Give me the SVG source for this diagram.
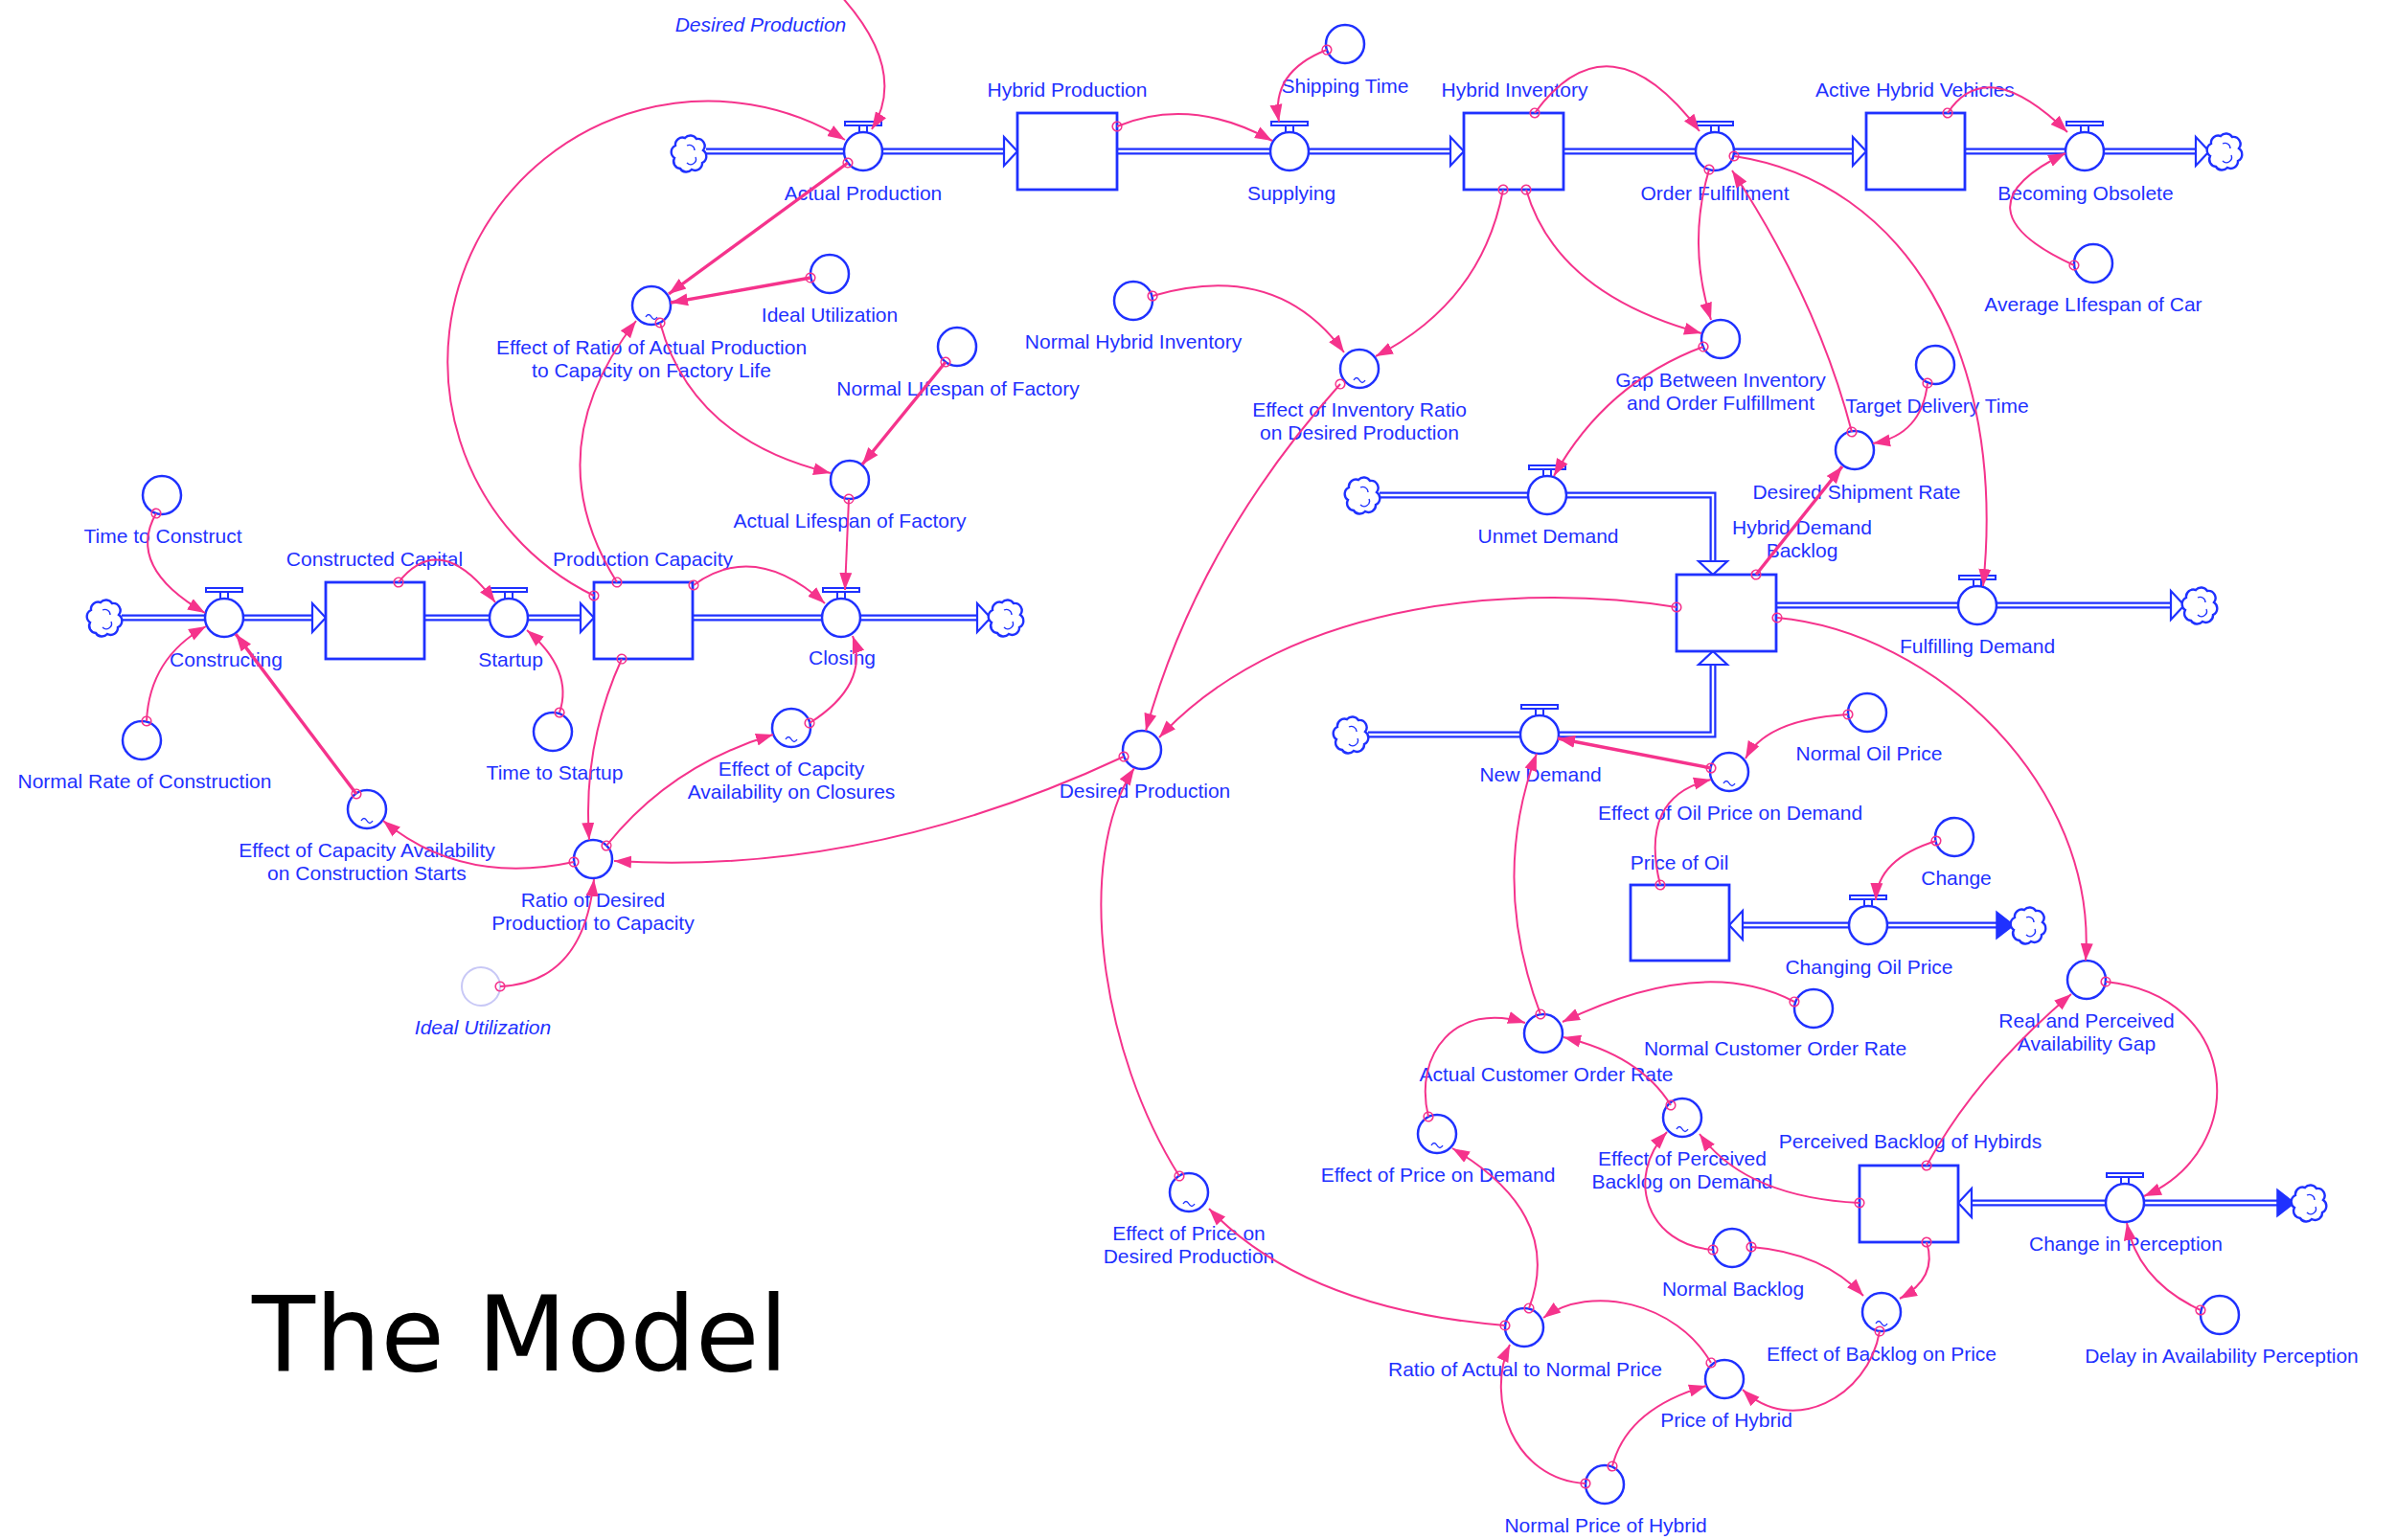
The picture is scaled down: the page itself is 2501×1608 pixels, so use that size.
<svg xmlns="http://www.w3.org/2000/svg" xmlns:xlink="http://www.w3.org/1999/xlink" width="2501" height="1608" viewBox="0 0 2501 1608">
<style>
.nc{fill:#fff;stroke:#1f31ff;stroke-width:2.5}
.gc{fill:#fff;stroke:#c8c8f6;stroke-width:2}
.st{fill:#fff;stroke:#1f31ff;stroke-width:2.8}
.vt{fill:#fff;stroke:#1f31ff;stroke-width:2}
.tl{fill:none;stroke:#1f31ff;stroke-width:1.4}
.lb{font-family:"Liberation Sans",Arial,sans-serif;font-size:21px;fill:#1f31ff;text-anchor:middle}
.it{font-style:italic}
.po{fill:none;stroke:#1f31ff;stroke-width:7}
.pi{fill:none;stroke:#fff;stroke-width:2.5}
.ha{fill:#fff;stroke:#1f31ff;stroke-width:2.2}
.fa{fill:#1f31ff;stroke:#1f31ff;stroke-width:1.5}
.lk{fill:none;stroke:#f5338c;stroke-width:2;marker-start:url(#dot);marker-end:url(#arr)}
.nm{marker-start:none}
.tk{stroke-width:3.4}
.cl{fill:#fff;stroke:#1f31ff;stroke-width:2.4}
.ttl{font-family:"DejaVu Sans",Verdana,sans-serif;font-size:108px;fill:#000}
</style>
<defs>
<marker id="arr" markerUnits="userSpaceOnUse" markerWidth="20" markerHeight="16" refX="18" refY="8" orient="auto" viewBox="0 0 20 16"><path d="M0,1.5 L18,8 L0,14.5 z" fill="#f5338c"/></marker>
<marker id="dot" markerUnits="userSpaceOnUse" markerWidth="14" markerHeight="14" refX="7" refY="7" orient="auto" viewBox="0 0 14 14"><circle cx="7" cy="7" r="4.8" fill="none" stroke="#f5338c" stroke-width="1.6"/></marker>
<g id="cloud">
<path class="cl" d="M-5,-16 a7.5,7.5 0 0 1 12,1 a7.5,7.5 0 0 1 7,12 a7.5,7.5 0 0 1 -1,13 a7.5,7.5 0 0 1 -11,7 a7.5,7.5 0 0 1 -12,-1 a7.5,7.5 0 0 1 -6,-11 a7.5,7.5 0 0 1 1,-13 a7.5,7.5 0 0 1 10,-8 z"/>
<path class="tl" d="M-3,-8 a5.5,5.5 0 0 1 8,5 M6,4 a5.5,5.5 0 0 1 -9,6"/>
</g>
</defs>
<rect width="2501" height="1608" fill="#fff"/>

<g id="flows">
<path class="po" d="M737,158 H1050"/><path class="pi" d="M737,158 H1050"/><polygon class="ha" points="1062,158 1048,143 1048,173"/>
<path class="po" d="M1166,158 H1516"/><path class="pi" d="M1166,158 H1516"/><polygon class="ha" points="1528,158 1514,143 1514,173"/>
<path class="po" d="M1632,158 H1936"/><path class="pi" d="M1632,158 H1936"/><polygon class="ha" points="1948,158 1934,143 1934,173"/>
<path class="po" d="M2051,158 H2294"/><path class="pi" d="M2051,158 H2294"/><polygon class="ha" points="2306,158 2292,143 2292,173"/>
<path class="po" d="M127,645 H328"/><path class="pi" d="M127,645 H328"/><polygon class="ha" points="340,645 326,630 326,660"/>
<path class="po" d="M443,645 H608"/><path class="pi" d="M443,645 H608"/><polygon class="ha" points="620,645 606,630 606,660"/>
<path class="po" d="M723,645 H1022"/><path class="pi" d="M723,645 H1022"/><polygon class="ha" points="1034,645 1020,630 1020,660"/>
<path class="po" d="M1440,517 H1788 V588"/><path class="pi" d="M1440,517 H1788 V588"/><polygon class="ha" points="1788,600 1773,586 1803,586"/>
<path class="po" d="M1428,767 H1788 V692"/><path class="pi" d="M1428,767 H1788 V692"/><polygon class="ha" points="1788,680 1773,694 1803,694"/>
<path class="po" d="M1854,632 H2268"/><path class="pi" d="M1854,632 H2268"/><polygon class="ha" points="2280,632 2266,617 2266,647"/>
<path class="po" d="M1817,966 H2086"/><path class="pi" d="M1817,966 H2086"/><polygon class="ha" points="1805,966 1819,951 1819,981"/><polygon class="fa" points="2102,966 2084,952 2084,980"/>
<path class="po" d="M2056,1256 H2378"/><path class="pi" d="M2056,1256 H2378"/><polygon class="ha" points="2044,1256 2058,1241 2058,1271"/><polygon class="fa" points="2395,1256 2377,1242 2377,1270"/>
<use href="#cloud" transform="translate(720,160)"/>
<use href="#cloud" transform="translate(2323,158)"/>
<use href="#cloud" transform="translate(110,645)"/>
<use href="#cloud" transform="translate(1051,645)"/>
<use href="#cloud" transform="translate(1423,517)"/>
<use href="#cloud" transform="translate(1411,767)"/>
<use href="#cloud" transform="translate(2297,632)"/>
<use href="#cloud" transform="translate(2118,966)"/>
<use href="#cloud" transform="translate(2411,1256)"/>
</g>

<g id="s-hybrid-production"><rect class="st" x="1062" y="118" width="104" height="80"/><text class="lb" x="1114" y="101">Hybrid Production</text></g>
<g id="s-hybrid-inventory"><rect class="st" x="1528" y="118" width="104" height="80"/><text class="lb" x="1581" y="101">Hybrid Inventory</text></g>
<g id="s-active-hybrid-vehicles"><rect class="st" x="1948" y="118" width="103" height="80"/><text class="lb" x="1999" y="101">Active Hybrid Vehicles</text></g>
<g id="s-constructed-capital"><rect class="st" x="340" y="608" width="103" height="80"/><text class="lb" x="391" y="591">Constructed Capital</text></g>
<g id="s-production-capacity"><rect class="st" x="620" y="608" width="103" height="80"/><text class="lb" x="671" y="591">Production Capacity</text></g>
<g id="s-hybrid-demand-backlog"><rect class="st" x="1750" y="600" width="104" height="80"/><text class="lb" x="1881" y="558">Hybrid Demand<tspan x="1881" dy="24">Backlog</tspan></text></g>
<g id="s-price-of-oil"><rect class="st" x="1702" y="924" width="103" height="79"/><text class="lb" x="1753" y="908">Price of Oil</text></g>
<g id="s-perceived-backlog"><rect class="st" x="1941" y="1217" width="103" height="80"/><text class="lb" x="1994" y="1199">Perceived Backlog of Hybirds</text></g>

<g id="v-actual-production"><path class="vt" d="M897,138V131M905,138V131"/><rect class="vt" x="882" y="127" width="38" height="4"/><circle class="nc" cx="901" cy="158" r="20"/><text class="lb" x="901" y="209">Actual Production</text></g>
<g id="v-supplying"><path class="vt" d="M1342,138V131M1350,138V131"/><rect class="vt" x="1327" y="127" width="38" height="4"/><circle class="nc" cx="1346" cy="158" r="20"/><text class="lb" x="1348" y="209">Supplying</text></g>
<g id="v-order-fulfillment"><path class="vt" d="M1786,138V131M1794,138V131"/><rect class="vt" x="1771" y="127" width="38" height="4"/><circle class="nc" cx="1790" cy="158" r="20"/><text class="lb" x="1790" y="209">Order Fulfillment</text></g>
<g id="v-becoming-obsolete"><path class="vt" d="M2172,138V131M2180,138V131"/><rect class="vt" x="2157" y="127" width="38" height="4"/><circle class="nc" cx="2176" cy="158" r="20"/><text class="lb" x="2177" y="209">Becoming Obsolete</text></g>
<g id="v-constructing"><path class="vt" d="M230,625V618M238,625V618"/><rect class="vt" x="215" y="614" width="38" height="4"/><circle class="nc" cx="234" cy="645" r="20"/><text class="lb" x="236" y="696">Constructing</text></g>
<g id="v-startup"><path class="vt" d="M527,625V618M535,625V618"/><rect class="vt" x="512" y="614" width="38" height="4"/><circle class="nc" cx="531" cy="645" r="20"/><text class="lb" x="533" y="696">Startup</text></g>
<g id="v-closing"><path class="vt" d="M874,625V618M882,625V618"/><rect class="vt" x="859" y="614" width="38" height="4"/><circle class="nc" cx="878" cy="645" r="20"/><text class="lb" x="879" y="694">Closing</text></g>
<g id="v-unmet-demand"><path class="vt" d="M1611,497V490M1619,497V490"/><rect class="vt" x="1596" y="486" width="38" height="4"/><circle class="nc" cx="1615" cy="517" r="20"/><text class="lb" x="1616" y="567">Unmet Demand</text></g>
<g id="v-fulfilling-demand"><path class="vt" d="M2060,612V605M2068,612V605"/><rect class="vt" x="2045" y="601" width="38" height="4"/><circle class="nc" cx="2064" cy="632" r="20"/><text class="lb" x="2064" y="682">Fulfilling Demand</text></g>
<g id="v-new-demand"><path class="vt" d="M1603,747V740M1611,747V740"/><rect class="vt" x="1588" y="736" width="38" height="4"/><circle class="nc" cx="1607" cy="767" r="20"/><text class="lb" x="1608" y="816">New Demand</text></g>
<g id="v-changing-oil-price"><path class="vt" d="M1946,946V939M1954,946V939"/><rect class="vt" x="1931" y="935" width="38" height="4"/><circle class="nc" cx="1950" cy="966" r="20"/><text class="lb" x="1951" y="1017">Changing Oil Price</text></g>
<g id="v-change-in-perception"><path class="vt" d="M2214,1236V1229M2222,1236V1229"/><rect class="vt" x="2199" y="1225" width="38" height="4"/><circle class="nc" cx="2218" cy="1256" r="20"/><text class="lb" x="2219" y="1306">Change in Perception</text></g>

<g id="g-desired-production-ghost"><text class="lb it" x="794" y="33">Desired Production</text></g>
<g id="a-effect-ratio"><circle class="nc" cx="680" cy="319" r="20"/><path class="tl" d="M674,331 q3,-5 6,0 t6,0"/><text class="lb" x="680" y="370">Effect of Ratio of Actual Production<tspan x="680" dy="24">to Capacity on Factory Life</tspan></text></g>
<g id="a-ideal-utilization"><circle class="nc" cx="866" cy="286" r="20"/><text class="lb" x="866" y="336">Ideal Utilization</text></g>
<g id="a-normal-lifespan-factory"><circle class="nc" cx="999" cy="362" r="20"/><text class="lb" x="1000" y="413">Normal LIfespan of Factory</text></g>
<g id="a-actual-lifespan-factory"><circle class="nc" cx="887" cy="501" r="20"/><text class="lb" x="887" y="551">Actual Lifespan of Factory</text></g>
<g id="a-normal-hybrid-inventory"><circle class="nc" cx="1183" cy="314" r="20"/><text class="lb" x="1183" y="364">Normal Hybrid Inventory</text></g>
<g id="a-effect-inventory-ratio"><circle class="nc" cx="1419" cy="385" r="20"/><path class="tl" d="M1413,397 q3,-5 6,0 t6,0"/><text class="lb" x="1419" y="435">Effect of Inventory Ratio<tspan x="1419" dy="24">on Desired Production</tspan></text></g>
<g id="a-gap"><circle class="nc" cx="1796" cy="354" r="20"/><text class="lb" x="1796" y="404">Gap Between Inventory<tspan x="1796" dy="24">and Order Fulfillment</tspan></text></g>
<g id="a-target-delivery-time"><circle class="nc" cx="2020" cy="381" r="20"/><text class="lb" x="2022" y="431">Target Delivery Time</text></g>
<g id="a-desired-shipment-rate"><circle class="nc" cx="1936" cy="470" r="20"/><text class="lb" x="1938" y="521">Desired Shipment Rate</text></g>
<g id="a-average-lifespan-car"><circle class="nc" cx="2185" cy="275" r="20"/><text class="lb" x="2185" y="325">Average LIfespan of Car</text></g>
<g id="a-shipping-time"><circle class="nc" cx="1404" cy="46" r="20"/><text class="lb" x="1404" y="97">Shipping Time</text></g>
<g id="a-time-to-construct"><circle class="nc" cx="169" cy="517" r="20"/><text class="lb" x="170" y="567">Time to Construct</text></g>
<g id="a-normal-rate-construction"><circle class="nc" cx="148" cy="773" r="20"/><text class="lb" x="151" y="823">Normal Rate of Construction</text></g>
<g id="a-time-to-startup"><circle class="nc" cx="577" cy="764" r="20"/><text class="lb" x="579" y="814">Time to Startup</text></g>
<g id="a-effect-cap-construction"><circle class="nc" cx="383" cy="845" r="20"/><path class="tl" d="M377,857 q3,-5 6,0 t6,0"/><text class="lb" x="383" y="895">Effect of Capacity Availability<tspan x="383" dy="24">on Construction Starts</tspan></text></g>
<g id="a-ratio-desired-capacity"><circle class="nc" cx="619" cy="897" r="20"/><text class="lb" x="619" y="947">Ratio of Desired<tspan x="619" dy="24">Production to Capacity</tspan></text></g>
<g id="a-effect-cap-closures"><circle class="nc" cx="826" cy="760" r="20"/><path class="tl" d="M820,772 q3,-5 6,0 t6,0"/><text class="lb" x="826" y="810">Effect of Capcity<tspan x="826" dy="24">Availability on Closures</tspan></text></g>
<g id="g-ideal-utilization-ghost"><circle class="gc" cx="502" cy="1030" r="20"/><text class="lb it" x="504" y="1080">Ideal Utilization</text></g>
<g id="a-desired-production"><circle class="nc" cx="1192" cy="783" r="20"/><text class="lb" x="1195" y="833">Desired Production</text></g>
<g id="a-effect-price-desired"><circle class="nc" cx="1241" cy="1245" r="20"/><path class="tl" d="M1235,1257 q3,-5 6,0 t6,0"/><text class="lb" x="1241" y="1295">Effect of Price on<tspan x="1241" dy="24">Desired Production</tspan></text></g>
<g id="a-effect-oil-price"><circle class="nc" cx="1805" cy="806" r="20"/><path class="tl" d="M1799,818 q3,-5 6,0 t6,0"/><text class="lb" x="1806" y="856">Effect of Oil Price on Demand</text></g>
<g id="a-normal-oil-price"><circle class="nc" cx="1949" cy="744" r="20"/><text class="lb" x="1951" y="794">Normal Oil Price</text></g>
<g id="a-change"><circle class="nc" cx="2040" cy="874" r="20"/><text class="lb" x="2042" y="924">Change</text></g>
<g id="a-actual-customer-order-rate"><circle class="nc" cx="1611" cy="1079" r="20"/><text class="lb" x="1614" y="1129">Actual Customer Order Rate</text></g>
<g id="a-normal-customer-order-rate"><circle class="nc" cx="1893" cy="1053" r="20"/><text class="lb" x="1853" y="1102">Normal Customer Order Rate</text></g>
<g id="a-effect-price-demand"><circle class="nc" cx="1500" cy="1184" r="20"/><path class="tl" d="M1494,1196 q3,-5 6,0 t6,0"/><text class="lb" x="1501" y="1234">Effect of Price on Demand</text></g>
<g id="a-effect-perceived-backlog"><circle class="nc" cx="1756" cy="1167" r="20"/><path class="tl" d="M1750,1179 q3,-5 6,0 t6,0"/><text class="lb" x="1756" y="1217">Effect of Perceived<tspan x="1756" dy="24">Backlog on Demand</tspan></text></g>
<g id="a-real-perceived-gap"><circle class="nc" cx="2178" cy="1023" r="20"/><text class="lb" x="2178" y="1073">Real and Perceived<tspan x="2178" dy="24">Availability Gap</tspan></text></g>
<g id="a-delay-availability"><circle class="nc" cx="2317" cy="1373" r="20"/><text class="lb" x="2319" y="1423">Delay in Availability Perception</text></g>
<g id="a-normal-backlog"><circle class="nc" cx="1808" cy="1303" r="20"/><text class="lb" x="1809" y="1353">Normal Backlog</text></g>
<g id="a-effect-backlog-price"><circle class="nc" cx="1964" cy="1370" r="20"/><path class="tl" d="M1958,1382 q3,-5 6,0 t6,0"/><text class="lb" x="1964" y="1421">Effect of Backlog on Price</text></g>
<g id="a-ratio-actual-normal-price"><circle class="nc" cx="1591" cy="1386" r="20"/><text class="lb" x="1592" y="1437">Ratio of Actual to Normal Price</text></g>
<g id="a-price-of-hybrid"><circle class="nc" cx="1800" cy="1440" r="20"/><text class="lb" x="1802" y="1490">Price of Hybrid</text></g>
<g id="a-normal-price-hybrid"><circle class="nc" cx="1675" cy="1550" r="20"/><text class="lb" x="1676" y="1600">Normal Price of Hybrid</text></g>

<g id="links">
<path class="lk nm" d="M878,-4 Q948,74 910,135"/>
<path class="lk" d="M620,622 A272,272 0 1 1 882,146"/>
<path class="lk tk" d="M885,170 L698,307"/>
<path class="lk tk" d="M846,290 L700,316"/>
<path class="lk" d="M689,337 Q722,459 867,494"/>
<path class="lk tk" d="M987,378 L900,485"/>
<path class="lk" d="M644,608 Q558,471 664,335"/>
<path class="lk" d="M1166,132 Q1243,100 1328,147"/>
<path class="lk" d="M1385,52 Q1326,75 1335,127"/>
<path class="lk" d="M1602,118 Q1680,12 1774,137"/>
<path class="lk" d="M2033,118 Q2074,56 2158,138"/>
<path class="lk" d="M2165,277 Q2036,218 2156,160"/>
<path class="lk" d="M1569,198 Q1547,315 1436,372"/>
<path class="lk" d="M1593,198 Q1625,307 1776,348"/>
<path class="lk" d="M1784,177 Q1761,255 1786,334"/>
<path class="lk" d="M1933,451 Q1897,313 1808,178"/>
<path class="lk" d="M1810,163 C1990,190 2095,370 2070,612"/>
<path class="lk" d="M2012,400 Q2006,454 1955,463"/>
<path class="lk" d="M1778,362 Q1676,400 1622,497"/>
<path class="lk tk" d="M1833,600 L1923,487"/>
<path class="lk" d="M1203,309 Q1333,271 1403,368"/>
<path class="lk" d="M1399,401 Q1250,568 1196,763"/>
<path class="lk" d="M1750,634 C1600,610 1350,620 1210,770"/>
<path class="lk" d="M1231,1228 C1150,1100 1120,900 1184,802"/>
<path class="lk" d="M1173,790 Q906,915 641,899"/>
<path class="lk" d="M724,611 Q788,564 861,630"/>
<path class="lk" d="M886,521 L882,616"/>
<path class="lk" d="M845,755 Q908,715 890,664"/>
<path class="lk" d="M416,608 Q460,552 517,629"/>
<path class="lk" d="M584,744 Q599,700 550,658"/>
<path class="lk" d="M163,536 Q131,592 214,640"/>
<path class="lk" d="M153,753 Q156,687 215,654"/>
<path class="lk tk" d="M372,829 L246,662"/>
<path class="lk" d="M649,688 Q608,778 615,877"/>
<path class="lk" d="M599,900 Q482,925 400,857"/>
<path class="lk" d="M633,883 Q700,799 807,767"/>
<path class="lk" d="M522,1030 Q609,1026 620,918"/>
<path class="lk tk" d="M1786,802 L1626,771"/>
<path class="lk" d="M1929,746 Q1844,751 1822,792"/>
<path class="lk" d="M1733,924 Q1710,832 1786,814"/>
<path class="lk" d="M2021,878 Q1960,897 1958,940"/>
<path class="lk" d="M1608,1059 Q1555,919 1604,787"/>
<path class="lk" d="M1855,645 C2020,660 2190,820 2177,1003"/>
<path class="lk" d="M1873,1046 Q1778,996 1631,1067"/>
<path class="lk" d="M1491,1166 C1475,1100 1520,1045 1592,1068"/>
<path class="lk" d="M1744,1154 Q1712,1102 1632,1083"/>
<path class="lk" d="M1941,1256 Q1822,1250 1774,1184"/>
<path class="lk" d="M1788,1305 C1720,1300 1695,1230 1740,1182"/>
<path class="lk" d="M1828,1302 Q1903,1308 1945,1353"/>
<path class="lk" d="M2011,1297 Q2023,1334 1983,1356"/>
<path class="lk" d="M2011,1217 Q2063,1122 2162,1038"/>
<path class="lk" d="M2198,1025 C2340,1040 2350,1200 2238,1249"/>
<path class="lk" d="M2297,1368 Q2231,1337 2220,1277"/>
<path class="lk" d="M1962,1390 C1950,1460 1870,1500 1819,1451"/>
<path class="lk" d="M1786,1423 C1750,1360 1660,1340 1611,1376"/>
<path class="lk" d="M1683,1531 Q1698,1471 1781,1447"/>
<path class="lk" d="M1655,1549 C1580,1545 1550,1460 1576,1404"/>
<path class="lk" d="M1596,1366 Q1633,1268 1516,1199"/>
<path class="lk" d="M1571,1384 Q1363,1367 1262,1262"/>
</g>

<g id="title"><text class="ttl" x="263" y="1431">The Model</text></g>
</svg>
